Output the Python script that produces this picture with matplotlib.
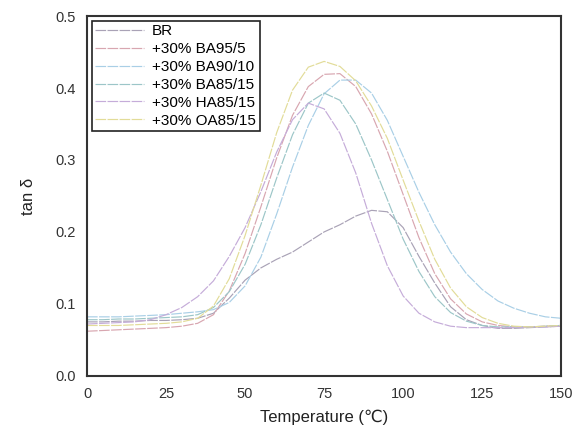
import matplotlib
matplotlib.use("Agg")
import matplotlib.pyplot as plt

plt.rcParams['font.family'] = ['Liberation Sans', 'DejaVu Sans']

# temperature grid (deg C) and tan delta
temps = [0, 5, 10, 15, 20, 25, 30, 35, 40, 45, 50, 55, 60, 65, 70, 75,
         80, 85, 90, 95, 100, 105, 110, 115, 120, 125, 130, 135, 140, 145, 150]

br = [0.075, 0.075, 0.076, 0.076, 0.077, 0.077, 0.078, 0.080, 0.087, 0.108, 0.133,
      0.150, 0.162, 0.172, 0.186, 0.200, 0.210, 0.222, 0.230, 0.228, 0.206,
      0.166, 0.129, 0.096, 0.078, 0.070, 0.066, 0.066, 0.067, 0.068, 0.069]
ba95 = [0.062, 0.063, 0.064, 0.065, 0.066, 0.067, 0.069, 0.073, 0.085, 0.118, 0.170,
        0.235, 0.303, 0.362, 0.402, 0.419, 0.420, 0.402, 0.364, 0.312, 0.252,
        0.192, 0.142, 0.107, 0.086, 0.075, 0.070, 0.068, 0.068, 0.069, 0.070]
ba90 = [0.082, 0.082, 0.082, 0.083, 0.084, 0.085, 0.087, 0.089, 0.092, 0.102, 0.125,
        0.165, 0.225, 0.290, 0.348, 0.392, 0.411, 0.411, 0.393, 0.355, 0.305,
        0.255, 0.210, 0.172, 0.142, 0.120, 0.104, 0.094, 0.087, 0.082, 0.080]
ba85 = [0.078, 0.078, 0.079, 0.079, 0.080, 0.081, 0.082, 0.085, 0.095, 0.117, 0.155,
        0.210, 0.275, 0.335, 0.379, 0.393, 0.383, 0.350, 0.300, 0.245, 0.190,
        0.145, 0.110, 0.088, 0.076, 0.070, 0.068, 0.068, 0.068, 0.069, 0.070]
ha85 = [0.072, 0.073, 0.074, 0.075, 0.078, 0.085, 0.095, 0.110, 0.132, 0.166, 0.206,
        0.256, 0.311, 0.356, 0.379, 0.371, 0.337, 0.282, 0.212, 0.153, 0.111,
        0.087, 0.075, 0.069, 0.067, 0.067, 0.067, 0.067, 0.068, 0.068, 0.069]
oa85 = [0.070, 0.070, 0.070, 0.071, 0.072, 0.073, 0.075, 0.080, 0.097, 0.135, 0.195,
        0.265, 0.338, 0.397, 0.429, 0.437, 0.430, 0.410, 0.375, 0.330, 0.272,
        0.215, 0.162, 0.122, 0.096, 0.081, 0.073, 0.069, 0.068, 0.069, 0.070]

labels = ['BR', '+30% BA95/5', '+30% BA90/10', '+30% BA85/15', '+30% HA85/15', '+30% OA85/15']
series = [br, ba95, ba90, ba85, ha85, oa85]
colors = ['#a9a2b6', '#d8a6b0', '#a9cfe6', '#9cc6c8', '#c5acd9', '#e2dc98']

fig = plt.figure(figsize=(5.84, 4.34), dpi=100)
ax = fig.add_axes([0.149, 0.134, 0.812, 0.829])

for ys, lab, c in zip(series, labels, colors):
    ax.plot(temps, ys, color=c, lw=0.85, ls=(0, (9, 1.2)), label=lab)

ax.set_xlim(0, 150)
ax.set_ylim(0, 0.5)
ax.set_xticks([0, 25, 50, 75, 100, 125, 150])
ax.set_yticks([0.0, 0.1, 0.2, 0.3, 0.4, 0.5])
ax.set_yticklabels(['0.0', '0.1', '0.2', '0.3', '0.4', '0.5'])
ax.tick_params(length=0, labelsize=10.5, pad=8, colors='#333333')
for s in ax.spines.values():
    s.set_linewidth(1.5)
    s.set_color('#333333')

ax.set_xlabel('Temperature (℃)', fontsize=12, color='#222222', labelpad=6)
ax.set_ylabel('tan δ', fontsize=12, color='#222222', labelpad=14)

leg = ax.legend(loc='upper left', fontsize=11, frameon=True, fancybox=False,
                edgecolor='#222222', framealpha=1, labelspacing=0.25,
                handlelength=3.2, handletextpad=0.5, borderpad=0.25,
                borderaxespad=0.3)
leg.get_frame().set_linewidth(1.2)

fig.savefig('out.png', dpi=100)
